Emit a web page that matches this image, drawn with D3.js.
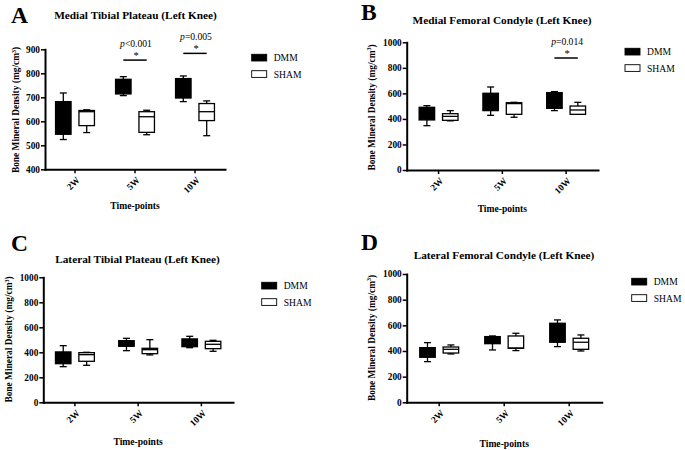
<!DOCTYPE html>
<html>
<head>
<meta charset="utf-8">
<script src="https://cdn.jsdelivr.net/npm/d3@7"></script>
<style>
  body { margin: 0; background: #fff; }
  svg { display: block; }
  text { font-family: "Liberation Serif", "Times New Roman", serif; fill: #000; }
</style>
</head>
<body>
<svg id="chart" width="685" height="450"></svg>
<script>
var timePoints = ['2W', '5W', '10W'];
var groups = ['DMM', 'SHAM'];

// box stats per time-point: [min, q1, median, q3, max]
var mtpDmm  = [[524, 546, 610, 682, 718], [707, 714, 745, 775, 786], [682, 697, 740, 778, 789]];
var mtpSham = [[553, 582, 640, 645, 648], [544, 554, 619, 640, 646], [540, 603, 640, 674, 685]];
var mfcDmm  = [[347, 392, 450, 491, 504], [428, 465, 540, 601, 650], [465, 483, 560, 606, 614]];
var mfcSham = [[385, 389, 420, 441, 465], [413, 436, 520, 527, 530], [436, 436, 470, 501, 530]];
var ltpDmm  = [[285, 309, 360, 403, 453], [413, 448, 470, 493, 512], [437, 445, 480, 507, 528]];
var ltpSham = [[296, 328, 381, 397, 400], [379, 389, 421, 432, 501], [408, 429, 464, 488, 496]];
var lfcDmm  = [[317, 351, 390, 426, 465], [408, 457, 490, 512, 517], [434, 468, 540, 616, 642]];
var lfcSham = [[377, 384, 413, 431, 447], [403, 421, 423, 517, 538], [400, 413, 468, 499, 525]];

var ticks400 = [400, 500, 600, 700, 800, 900];
var ticks1000 = [0, 200, 400, 600, 800, 1000];

// significance marks: time-point index, bar height (data units), p text
var mtpSig = [{t: 1, v: 855, op: '<0.001'}, {t: 2, v: 883, op: '=0.005'}];
var mfcSig = [{t: 2, v: 877, op: '=0.014'}];

var panels = [
  { letter: 'A', lx: 11, ly: 23, title: 'Medial Tibial Plateau (Left Knee)', tx: 135.5, ty: 19,
    x0: 45, x1: 225, yTop: 49.3, yBot: 169.3, domain: [400, 900], ticks: ticks400,
    labX: 19, labY: 110, xtY: 209, legX: 251.7, legY: 54.3,
    dmm: mtpDmm, sham: mtpSham, sig: mtpSig },
  { letter: 'B', lx: 361, ly: 20, title: 'Medial Femoral Condyle (Left Knee)', tx: 502, ty: 23.5,
    x0: 406.7, x1: 598, yTop: 42.3, yBot: 170, domain: [0, 1000], ticks: ticks1000,
    labX: 374.5, labY: 107.5, xtY: 211.5, legX: 625, legY: 48.3,
    dmm: mfcDmm, sham: mfcSham, sig: mfcSig },
  { letter: 'C', lx: 11, ly: 251, title: 'Lateral Tibial Plateau (Left Knee)', tx: 137.5, ty: 262.5,
    x0: 43.3, x1: 233, yTop: 277.3, yBot: 402.3, domain: [0, 1000], ticks: ticks1000,
    labX: 12.3, labY: 339.5, xtY: 445, legX: 261.7, legY: 282.3,
    dmm: ltpDmm, sham: ltpSham, sig: [] },
  { letter: 'D', lx: 361, ly: 250, title: 'Lateral Femoral Condyle (Left Knee)', tx: 504, ty: 258.5,
    x0: 406.7, x1: 601.7, yTop: 274, yBot: 402.3, domain: [0, 1000], ticks: ticks1000,
    labX: 374.5, labY: 338, xtY: 446.7, legX: 631.7, legY: 278.3,
    dmm: lfcDmm, sham: lfcSham, sig: [] }
];

var svg = d3.select('#chart');
var boxW = 15.5, boxOff = 11.7, capW = 7;

panels.forEach(drawPanel);

function drawPanel(p) {
  var g = svg.append('g');

  var x = d3.scaleBand().domain(timePoints).range([p.x0, p.x1]);
  var y = d3.scaleLinear().domain(p.domain).range([p.yBot, p.yTop]);

  // panel letter + title
  g.append('text').attr('x', p.lx).attr('y', p.ly)
    .attr('font-size', 23.5).attr('font-weight', 'bold').text(p.letter);
  g.append('text').attr('x', p.tx).attr('y', p.ty).attr('text-anchor', 'middle')
    .attr('font-size', 11.3).attr('font-weight', 'bold').text(p.title);

  // axes
  var xa = g.append('g').attr('transform', 'translate(0,' + p.yBot + ')')
    .call(d3.axisBottom(x).tickSize(4).tickSizeOuter(0));
  xa.selectAll('text')
    .attr('x', 0).attr('y', 0).attr('dy', '0.35em')
    .attr('text-anchor', 'end')
    .attr('transform', 'translate(3,9) rotate(-45)')
    .attr('font-size', 9.3).attr('font-weight', 'bold')
    .style('font-family', '"Liberation Serif", serif');

  var ya = g.append('g').attr('transform', 'translate(' + p.x0 + ',0)')
    .call(d3.axisLeft(y).tickValues(p.ticks).tickFormat(d3.format('d'))
      .tickSize(4).tickSizeOuter(0).tickPadding(1));
  ya.selectAll('text')
    .attr('font-size', 9.3).attr('font-weight', 'bold')
    .style('font-family', '"Liberation Serif", serif');

  [xa, ya].forEach(function (a) {
    a.select('.domain').attr('stroke-width', 2).attr('stroke-linecap', 'square');
    a.selectAll('.tick line').attr('stroke-width', 1.5);
  });

  // axis titles
  var lab = g.append('text')
    .attr('transform', 'translate(' + p.labX + ',' + p.labY + ') rotate(-90)')
    .attr('text-anchor', 'middle').attr('font-size', 9.4).attr('font-weight', 'bold');
  lab.append('tspan').text('Bone Mineral Density (mg/cm');
  lab.append('tspan').attr('font-size', 6).attr('dy', -3.5).text('3');
  lab.append('tspan').attr('dy', 3.5).text(')');

  g.append('text').attr('x', (p.x0 + p.x1) / 2).attr('y', p.xtY)
    .attr('text-anchor', 'middle').attr('font-size', 9.6).attr('font-weight', 'bold')
    .text('Time-points');

  // boxes
  groups.forEach(function (grp, gi) {
    var stats = gi === 0 ? p.dmm : p.sham;
    var off = gi === 0 ? -boxOff : boxOff;
    var bg = g.append('g');
    stats.forEach(function (s, ti) {
      var cx = x(timePoints[ti]) + x.bandwidth() / 2 + off;
      var b = bg.append('g').attr('stroke', '#000').attr('stroke-width', 1.3);
      b.append('line').attr('x1', cx).attr('x2', cx).attr('y1', y(s[0])).attr('y2', y(s[4]));
      b.append('line').attr('x1', cx - capW / 2).attr('x2', cx + capW / 2).attr('y1', y(s[0])).attr('y2', y(s[0]));
      b.append('line').attr('x1', cx - capW / 2).attr('x2', cx + capW / 2).attr('y1', y(s[4])).attr('y2', y(s[4]));
      b.append('rect').attr('x', cx - boxW / 2).attr('width', boxW)
        .attr('y', y(s[3])).attr('height', y(s[1]) - y(s[3]))
        .attr('fill', gi === 0 ? '#000' : '#fff');
      b.append('line').attr('x1', cx - boxW / 2).attr('x2', cx + boxW / 2)
        .attr('y1', y(s[2])).attr('y2', y(s[2]));
    });
  });

  // significance bars
  p.sig.forEach(function (s) {
    var c = x(timePoints[s.t]) + x.bandwidth() / 2;
    var yy = y(s.v);
    g.append('line').attr('x1', c - boxOff).attr('x2', c + boxOff)
      .attr('y1', yy).attr('y2', yy).attr('stroke', '#000').attr('stroke-width', 1.5);
    g.append('text').attr('x', c + 1).attr('y', yy - 1.5).attr('text-anchor', 'middle')
      .attr('font-size', 10.5).text('*');
    var t = g.append('text').attr('x', c + 1).attr('y', yy - 13.2)
      .attr('text-anchor', 'middle').attr('font-size', 9.6);
    t.append('tspan').attr('font-style', 'italic').text('p');
    t.append('tspan').text(s.op);
  });

  // legend
  groups.forEach(function (grp, gi) {
    var ly = p.legY + gi * 16.4;
    g.append('rect').attr('x', p.legX).attr('y', ly).attr('width', 15).attr('height', 6.7)
      .attr('fill', gi === 0 ? '#000' : '#fff').attr('stroke', '#000').attr('stroke-width', 0.9);
    g.append('text').attr('x', p.legX + 22).attr('y', ly + 7).attr('font-size', 9.6).text(grp);
  });
}
</script>
</body>
</html>
